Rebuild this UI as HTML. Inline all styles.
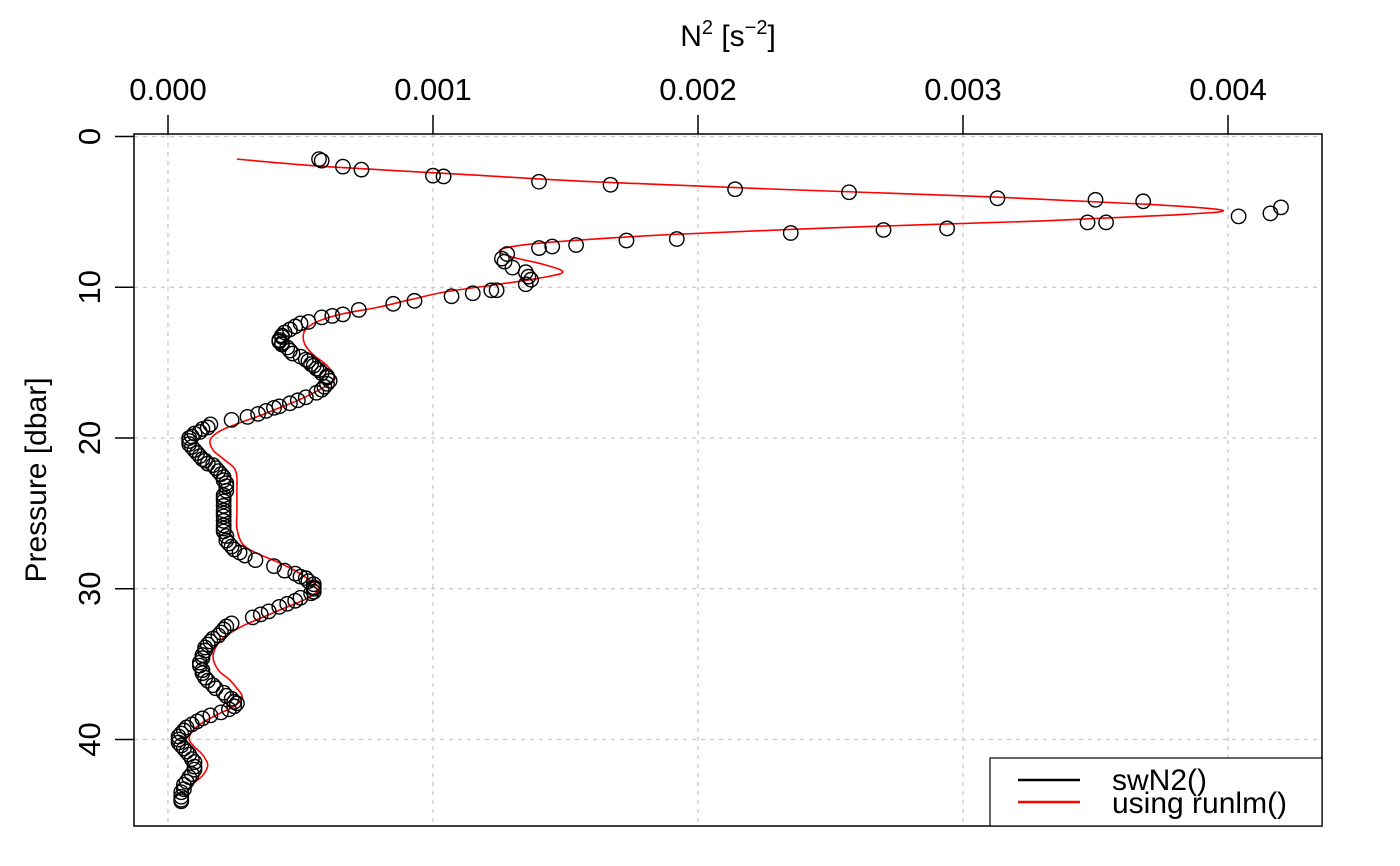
<!DOCTYPE html>
<html><head><meta charset="utf-8"><style>
html,body{margin:0;padding:0;background:#fff;}
svg{display:block;font-family:"Liberation Sans",Arial,sans-serif;}
</style></head><body>
<svg id="chart" width="1400" height="866" viewBox="0 0 1400 866" xmlns="http://www.w3.org/2000/svg">
<g id="grid"></g>
<g id="redline"></g>
<g id="pts"></g>
<rect x="134" y="134" width="1188" height="692" fill="none" stroke="#000" stroke-width="1.5"/>
<g id="axes"></g>
<text x="728" y="46" font-size="30" text-anchor="middle">N<tspan font-size="20" dy="-12">2</tspan><tspan dy="12"> [s</tspan><tspan font-size="20" dy="-12">−2</tspan><tspan dy="12">]</tspan></text>
<text transform="translate(46,480) rotate(-90)" font-size="30" text-anchor="middle">Pressure [dbar]</text>
<g>
<rect x="990" y="758" width="332" height="68" fill="#fff" stroke="#000" stroke-width="1.2"/>
<line x1="1018" y1="780" x2="1080" y2="780" stroke="#000" stroke-width="2.5"/>
<text x="1112" y="790" font-size="30">swN2()</text>
<line x1="1018" y1="802" x2="1080" y2="802" stroke="#f00" stroke-width="2.5"/>
<text x="1112" y="813" font-size="30">using runlm()</text>
</g>
</svg>
<script>
const xTicks=[0,0.001,0.002,0.003,0.004];
const xTickLabels=["0.000","0.001","0.002","0.003","0.004"];
const yTicks=[0,10,20,30,40];
const yTickLabels=["0","10","20","30","40"];
// swN2 points: pressure [dbar], N2 [1e-3 s^-2]
const ptP=[1.5,1.6,2.0,2.2,2.6,2.65,3.0,3.2,3.5,3.7,4.1,4.2,4.3,4.7,5.1,5.3,5.7,5.7,6.1,6.2,6.4,6.8,6.9,7.2,7.3,7.4,7.8,8.1,8.3,8.7,9.0,9.3,9.5,9.8,10.2,10.2,10.4,10.6,10.9,11.1,11.5,11.8,11.9,12.0,12.3,12.4,12.6,12.8,13.0,13.2,13.3,13.5,13.6,13.7,13.8,14.0,14.2,14.4,14.6,14.8,14.9,15.1,15.2,15.4,15.5,15.7,15.9,16.0,16.2,16.4,16.6,16.8,17.0,17.3,17.5,17.7,17.9,18.0,18.2,18.4,18.6,18.8,19.1,19.3,19.4,19.6,19.7,19.9,20.0,20.2,20.4,20.6,20.8,21.0,21.2,21.4,21.5,21.7,21.8,22.0,22.2,22.4,22.6,22.8,23.0,23.2,23.5,23.8,24,24.2,24.5,24.8,25,25.2,25.5,25.8,26,26.2,26.5,26.8,27,27.2,27.4,27.6,27.8,28.1,28.5,28.8,29.0,29.2,29.3,29.5,29.7,29.9,30.0,30.2,30.3,30.6,30.8,31.0,31.2,31.5,31.7,31.9,32.3,32.5,32.7,32.9,33.1,33.3,33.5,33.7,33.9,34.1,34.4,34.6,34.9,35.1,35.4,35.6,35.9,36.1,36.4,36.6,36.9,37.1,37.3,37.5,37.6,37.8,38.0,38.2,38.4,38.6,38.8,39.0,39.2,39.4,39.6,39.8,40.0,40.2,40.4,40.6,40.8,41.0,41.3,41.5,41.8,42.0,42.3,42.5,42.8,43.0,43.3,43.5,43.8,44.0,44.1];
const ptN=[0.57,0.58,0.66,0.73,1.00,1.04,1.40,1.67,2.14,2.57,3.13,3.50,3.68,4.20,4.16,4.04,3.47,3.54,2.94,2.70,2.35,1.92,1.73,1.54,1.45,1.40,1.28,1.26,1.27,1.30,1.35,1.36,1.37,1.35,1.24,1.22,1.15,1.07,0.93,0.85,0.72,0.66,0.62,0.58,0.53,0.50,0.48,0.46,0.44,0.43,0.43,0.42,0.42,0.43,0.43,0.45,0.46,0.47,0.50,0.52,0.53,0.54,0.55,0.56,0.57,0.58,0.60,0.60,0.61,0.60,0.59,0.58,0.56,0.52,0.49,0.46,0.42,0.40,0.37,0.34,0.30,0.24,0.16,0.15,0.13,0.12,0.10,0.09,0.08,0.08,0.08,0.09,0.10,0.11,0.12,0.13,0.14,0.15,0.17,0.18,0.19,0.20,0.21,0.21,0.22,0.22,0.22,0.21,0.21,0.21,0.21,0.21,0.21,0.21,0.21,0.21,0.21,0.21,0.22,0.22,0.23,0.24,0.25,0.27,0.29,0.33,0.40,0.44,0.48,0.50,0.52,0.53,0.55,0.55,0.55,0.55,0.54,0.50,0.48,0.45,0.42,0.38,0.35,0.32,0.24,0.22,0.21,0.20,0.19,0.17,0.16,0.15,0.14,0.14,0.13,0.13,0.12,0.12,0.13,0.13,0.14,0.15,0.17,0.18,0.21,0.22,0.24,0.25,0.26,0.25,0.23,0.20,0.16,0.13,0.11,0.09,0.07,0.06,0.05,0.04,0.04,0.04,0.05,0.06,0.07,0.08,0.09,0.10,0.10,0.10,0.09,0.08,0.07,0.06,0.06,0.05,0.05,0.05,0.05];
// runlm line
const lnP=[1.5,2,2.5,3,3.5,4,4.5,4.9,5.2,5.6,6,6.5,7,7.3,7.6,8,8.5,9,9.4,9.8,10.3,10.8,11.3,11.8,12.3,12.8,13.3,13.9,14.5,15.2,16.0,16.5,17,17.5,18,18.5,19,19.5,20.1,20.8,21.4,22.0,22.6,23.2,24,25,26,27,27.6,28.2,28.8,29.5,30,30.6,31.2,31.8,32.4,33,33.6,34.5,35.4,36,36.6,37.2,37.8,38.4,39,39.5,40.0,40.5,41,41.7,42.4,43.0,43.4];
const lnN=[0.26,0.6,1.1,1.6,2.3,3.1,3.7,3.98,3.8,3.3,2.6,1.9,1.45,1.3,1.25,1.3,1.42,1.49,1.4,1.25,1.05,0.92,0.8,0.65,0.56,0.52,0.51,0.52,0.55,0.6,0.63,0.6,0.55,0.49,0.42,0.35,0.27,0.2,0.16,0.17,0.21,0.25,0.26,0.26,0.26,0.26,0.26,0.28,0.33,0.41,0.48,0.54,0.57,0.53,0.45,0.37,0.29,0.23,0.19,0.17,0.19,0.23,0.26,0.28,0.25,0.18,0.12,0.09,0.08,0.1,0.13,0.15,0.13,0.09,0.075];

const NS="http://www.w3.org/2000/svg";
const X=v=>168+v*265000;            // v in s^-2
const Y=p=>136.5+p*15.075;
function mk(tag,attrs,parent){const e=document.createElementNS(NS,tag);for(const k in attrs)e.setAttribute(k,attrs[k]);parent.appendChild(e);return e;}
const grid=document.getElementById('grid'),axes=document.getElementById('axes');
xTicks.forEach((t,i)=>{
  const g=mk('line',{x1:X(t),x2:X(t),y1:134,y2:826,stroke:'#c8c8c8','stroke-width':1.3,'stroke-dasharray':'4,5'},grid);
  
  
  const tk=mk('line',{x1:X(t),x2:X(t),y1:134,y2:115,stroke:'#000','stroke-width':1.5},axes);
  
  
  const tl=mk('text',{x:X(t),y:100,'font-size':31,'text-anchor':'middle'},axes);
  tl.textContent=xTickLabels[i];
  
  
});
yTicks.forEach((t,i)=>{
  const g=mk('line',{x1:134,x2:1322,y1:Y(t),y2:Y(t),stroke:'#c8c8c8','stroke-width':1.3,'stroke-dasharray':'4,5'},grid);
  
  
  const tk=mk('line',{x1:134,x2:115,y1:Y(t),y2:Y(t),stroke:'#000','stroke-width':1.5},axes);
  
  
  const tl=mk('text',{transform:`translate(100,${Y(t)}) rotate(-90)`,'font-size':31,'text-anchor':'middle'},axes);
  tl.textContent=yTickLabels[i];
  
  
});
const red=document.getElementById('redline');
const P=lnP.map((p,i)=>[X(lnN[i]/1000),Y(p)]);
let d='M'+P[0][0]+','+P[0][1];
for(let i=0;i<P.length-1;i++){
  const p0=P[Math.max(0,i-1)],p1=P[i],p2=P[i+1],p3=P[Math.min(P.length-1,i+2)];
  const c1=[p1[0]+(p2[0]-p0[0])/6,p1[1]+(p2[1]-p0[1])/6];
  const c2=[p2[0]-(p3[0]-p1[0])/6,p2[1]-(p3[1]-p1[1])/6];
  d+=` C${c1[0]},${c1[1]} ${c2[0]},${c2[1]} ${p2[0]},${p2[1]}`;
}
const pl=mk('path',{d:d,fill:'none',stroke:'#f00','stroke-width':1.6},red);


const pts=document.getElementById('pts');
ptP.forEach((p,i)=>{
  const c=mk('circle',{cx:X(ptN[i]/1000),cy:Y(p),r:7.2,fill:'none',stroke:'#000','stroke-width':1.4},pts);
  
  
});
</script>
</body></html>
